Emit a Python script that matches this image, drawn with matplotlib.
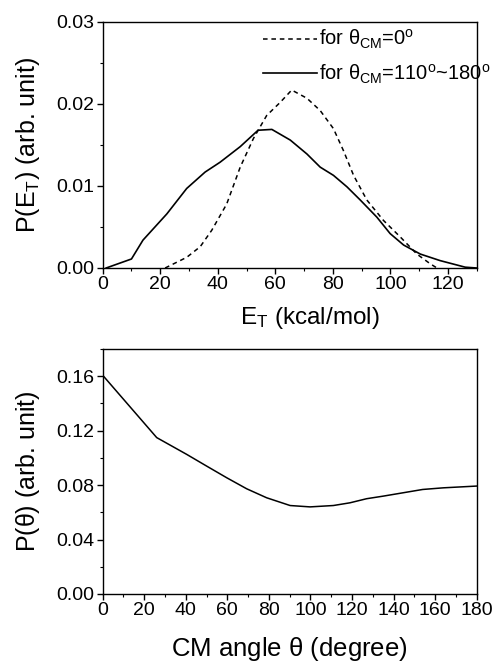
import matplotlib
matplotlib.use("Agg")
import matplotlib.pyplot as plt
from matplotlib.ticker import MultipleLocator, FormatStrFormatter

plt.rcParams['font.family'] = ['Liberation Sans', 'DejaVu Sans']
plt.rcParams['mathtext.fontset'] = 'custom'
plt.rcParams['mathtext.rm'] = 'Liberation Sans'
plt.rcParams['mathtext.it'] = 'Liberation Sans'

# Top panel: P(E_T)
et_solid = [1.2, 10, 14, 22.3, 29.2, 35.6, 40.8, 47.8, 54, 58.8, 65.2, 71, 75.6, 80.2, 84.9,
            89.5, 95.3, 99.9, 104.6, 110.4, 117.3, 126, 130]
p_solid = [0.0, 0.0011, 0.0034, 0.0066, 0.0097, 0.0117, 0.0129, 0.0148, 0.0168, 0.0169, 0.0156,
           0.0139, 0.0123, 0.0113, 0.0099, 0.0083, 0.0062, 0.0042, 0.0028, 0.0017, 0.0009, 0.0001, 0.0]
et_dash = [21.7, 29.2, 33.9, 37.9, 43.1, 47.8, 52.4, 57, 61.7, 65.7, 71, 75.6, 80.2, 83.7, 87.2,
           91.8, 97.6, 103.4, 109.2, 113.9, 116.2]
p_dash = [0.0, 0.0013, 0.0026, 0.0046, 0.0078, 0.0123, 0.0158, 0.0186, 0.0202, 0.0217, 0.0207,
          0.0192, 0.0170, 0.0143, 0.0113, 0.0083, 0.0058, 0.0038, 0.0017, 0.0005, 0.0]

# Bottom panel: P(theta)
theta = [0, 26, 40.4, 50, 59.7, 69.3, 78.9, 90.2, 99.8, 111, 119, 127, 135, 144.7, 154, 163.9, 180]
p_theta = [0.1607, 0.1149, 0.1026, 0.094, 0.0854, 0.0773, 0.0707, 0.065, 0.064, 0.065, 0.067,
           0.070, 0.0719, 0.0744, 0.0768, 0.078, 0.0793]

label_dash = r'for $\theta_{\rm CM}$=0$^{\rm o}$'
label_solid = r'for $\theta_{\rm CM}$=110$^{\rm o}$~180$^{\rm o}$'

W, H = 494, 665
fig = plt.figure(figsize=(W / 100, H / 100), dpi=100)
ax1 = fig.add_axes([102.7 / W, 1 - 268 / H, 374 / W, 246 / H])
ax2 = fig.add_axes([102.7 / W, 1 - 594 / H, 374 / W, 245 / H])

ax1.plot(et_dash, p_dash, color='black', lw=1.1, ls=(0, (3, 2.5)), label=label_dash)
ax1.plot(et_solid, p_solid, color='black', lw=1.2, label=label_solid)
ax1.set_xlim(0, 130)
ax1.set_ylim(0, 0.03)
ax1.xaxis.set_major_locator(MultipleLocator(20))
ax1.xaxis.set_minor_locator(MultipleLocator(10))
ax1.yaxis.set_major_locator(MultipleLocator(0.01))
ax1.yaxis.set_minor_locator(MultipleLocator(0.005))
ax1.yaxis.set_major_formatter(FormatStrFormatter('%.2f'))
ax1.set_xlabel(r'E$_{\rm T}$ (kcal/mol)', fontsize=17.5)
ax1.xaxis.set_label_coords((310 - 102.7) / 374, -(305 - 268) / 246)
ax1.set_ylabel(r'P(E$_{\rm T}$) (arb. unit)', fontsize=18, labelpad=10)
leg = ax1.legend(loc='upper left', frameon=False, fontsize=14.5, handlelength=2.7,
                 handletextpad=0.08, labelspacing=0.55, borderaxespad=0, borderpad=0,
                 bbox_to_anchor=(263 / W, 1 - 28 / H), bbox_transform=fig.transFigure)

ax2.plot(theta, p_theta, color='black', lw=1.1)
ax2.set_xlim(0, 180)
ax2.set_ylim(0, 0.18)
ax2.xaxis.set_major_locator(MultipleLocator(20))
ax2.xaxis.set_minor_locator(MultipleLocator(10))
ax2.yaxis.set_major_locator(MultipleLocator(0.04))
ax2.yaxis.set_minor_locator(MultipleLocator(0.02))
ax2.yaxis.set_major_formatter(FormatStrFormatter('%.2f'))
ax2.set_xlabel(r'CM angle $\theta$ (degree)', fontsize=18.5)
ax2.xaxis.set_label_coords(0.5, -(635 - 594) / 245)
ax2.set_ylabel(r'P($\theta$) (arb. unit)', fontsize=18, labelpad=10)

for ax in (ax1, ax2):
    ax.tick_params(which='major', direction='out', length=4, width=1, labelsize=14, pad=2)
    ax.tick_params(which='minor', direction='out', length=2.5, width=0.8)
    for s in ax.spines.values():
        s.set_linewidth(1.0)

fig.savefig('out.png', dpi=100)
